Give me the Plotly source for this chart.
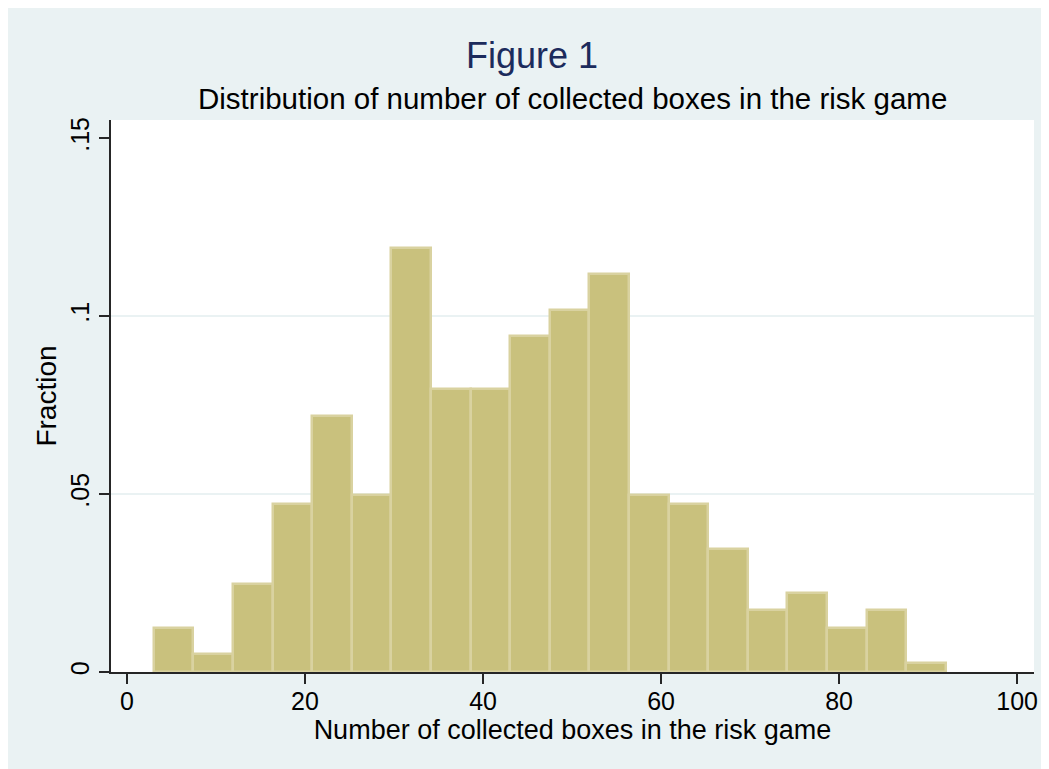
import plotly.graph_objects as go

# ---- data ----
BIN_START = 3.0
BIN_WIDTH = 4.45
fractions = [0.0124, 0.0050, 0.0248, 0.0471, 0.0720, 0.0496, 0.1191, 0.0794,
             0.0794, 0.0943, 0.1017, 0.1117, 0.0496, 0.0471, 0.0347, 0.0174,
             0.0223, 0.0124, 0.0174, 0.0025]
x_tickvals = [0, 20, 40, 60, 80, 100]
x_ticktext = ["0", "20", "40", "60", "80", "100"]
y_tickvals = [0, 0.05, 0.10, 0.15]
y_ticktext = ["0", ".05", ".1", ".15"]
grid_values = [0.05, 0.10]

title_text = "Figure 1"
subtitle_text = "Distribution of number of collected boxes in the risk game"
x_title = "Number of collected boxes in the risk game"
y_title = "Fraction"

# ---- styling ----
BG = "#EAF2F3"
FONT = "Arial, Liberation Sans, Helvetica, sans-serif"
AXIS = "#262626"

# page body has an 8px margin: figure starts at (8, 8)
OFF = 8
W, H = 1049 - OFF, 769 - OFF
ML, MR, MT, MB = 111 - OFF, 15, 120 - OFF, 97
PH = 672 - 120  # plot height in px

centers = [BIN_START + BIN_WIDTH * (i + 0.5) for i in range(len(fractions))]

fig = go.Figure()
fig.add_trace(go.Bar(
    x=centers, y=fractions, width=BIN_WIDTH,
    marker=dict(color="#C9C17D", line=dict(color="#D9D2A0", width=2.5)),
    hoverinfo="x+y", showlegend=False,
))

shapes = []
for g in grid_values:
    shapes.append(dict(type="line", xref="paper", yref="y", x0=0, x1=1, y0=g, y1=g,
                       line=dict(color=BG, width=2), layer="below"))

fig.update_layout(
    width=W, height=H,
    margin=dict(l=ML, r=MR, t=MT, b=MB),
    paper_bgcolor=BG, plot_bgcolor="white",
    font=dict(family=FONT, color="black", size=25),
    bargap=0,
    shapes=shapes,
    annotations=[
        dict(text=title_text, xref="paper", yref="paper", x=(531.5 - 111) / 923,
             y=(672 - 56) / PH, xanchor="center", yanchor="middle", showarrow=False,
             font=dict(family=FONT, size=36, color="#1C2B5C")),
        dict(text=subtitle_text, xref="paper", yref="paper", x=0.5,
             y=(672 - 99) / PH, xanchor="center", yanchor="middle", showarrow=False,
             font=dict(family=FONT, size=29.5, color="black")),
    ],
    xaxis=dict(
        range=[-1.8, 101.9], tickmode="array", tickvals=x_tickvals, ticktext=x_ticktext,
        ticks="outside", ticklen=10, tickwidth=2, tickcolor=AXIS,
        showline=True, linecolor=AXIS, linewidth=2, showgrid=False, zeroline=False,
        tickfont=dict(size=25), fixedrange=True, ticklabelstandoff=-4,
        title=dict(text=x_title, font=dict(size=27), standoff=0),
    ),
    yaxis=dict(
        range=[0, 0.1551], tickmode="array", tickvals=y_tickvals, ticktext=y_ticktext,
        ticks="outside", ticklen=10, tickwidth=2, tickcolor=AXIS, tickangle=-90,
        showline=True, linecolor=AXIS, linewidth=2, showgrid=False, zeroline=False,
        tickfont=dict(size=25), fixedrange=True,
        title=dict(text=y_title, font=dict(size=28), standoff=1),
    ),
)

fig.write_html("out.html")
